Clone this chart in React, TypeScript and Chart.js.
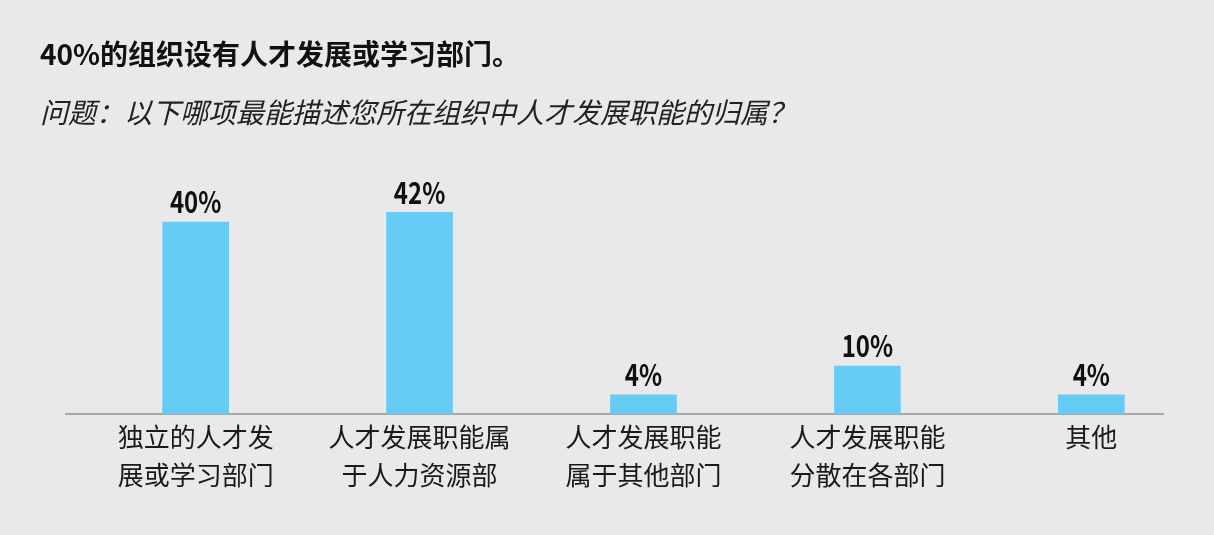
import { useEffect, useRef } from 'react'
import { Chart, registerables } from 'chart.js'

Chart.register(...registerables)

// 图表数据
const categories: string[][] = [
  ['独立的人才发', '展或学习部门'],
  ['人才发展职能属', '于人力资源部'],
  ['人才发展职能', '属于其他部门'],
  ['人才发展职能', '分散在各部门'],
  ['其他']
]
const values: number[] = [40, 42, 4, 10, 4]
const titleText = '40%的组织设有人才发展或学习部门。'
const subtitleText = '问题：以下哪项最能描述您所在组织中人才发展职能的归属？'

const BG = '#e9e9eb'
const BAR = '#66cbf5'
const CJK = '"Noto Sans CJK SC", "Noto Sans", sans-serif'

// 柱顶数值标签
const valueLabels = {
  id: 'valueLabels',
  afterDatasetsDraw(chart: any) {
    const { ctx } = chart
    const meta = chart.getDatasetMeta(0)
    ctx.save()
    ctx.fillStyle = '#111'
    ctx.font = `bold 30px ${CJK}`
    ctx.textAlign = 'center'
    ctx.textBaseline = 'bottom'
    meta.data.forEach((bar: any, i: number) => {
      ctx.save()
      ctx.translate(bar.x, bar.y - 5)
      ctx.scale(0.8, 1)
      ctx.fillText(`${values[i]}%`, 0, 0)
      ctx.restore()
    })
    ctx.restore()
  }
}

export default function App() {
  const canvasRef = useRef<HTMLCanvasElement | null>(null)

  useEffect(() => {
    const ctx = canvasRef.current?.getContext('2d')
    if (!ctx) return

    const chart = new Chart(ctx, {
      type: 'bar',
      data: {
        datasets: [
          {
            data: values.map((v, i) => ({ x: i, y: v })),
            backgroundColor: BAR,
            barThickness: 66
          }
        ]
      },
      options: {
        responsive: true,
        maintainAspectRatio: false,
        animation: false,
        layout: { padding: { left: 40, right: 51, top: 0, bottom: 37 } },
        plugins: {
          legend: { display: false },
          tooltip: { enabled: false },
          title: {
            display: true,
            text: titleText,
            align: 'start',
            color: '#111',
            font: { family: CJK, size: 28, weight: 'bold', lineHeight: 1.2 },
            padding: { top: 38, bottom: 0 }
          },
          subtitle: {
            display: true,
            text: subtitleText,
            align: 'start',
            color: '#222',
            font: { family: CJK, size: 28, style: 'italic', lineHeight: 1.2 },
            padding: { top: 23.6, bottom: 45.2 }
          }
        },
        scales: {
          x: {
            type: 'linear',
            offset: false,
            min: -0.579,
            max: 4.32,
            afterBuildTicks: (axis: any) => {
              axis.ticks = categories.map((_, i) => ({ value: i }))
            },
            ticks: {
              autoSkip: false,
              maxRotation: 0,
              padding: 4,
              color: '#1a1a1a',
              font: { family: CJK, size: 26, lineHeight: 38 / 26 },
              callback: (v: any) => categories[v] ?? ''
            },
            grid: { display: false, drawTicks: false },
            border: { display: true, color: '#a8a8aa', width: 2 }
          },
          y: {
            min: 0,
            max: 50,
            ticks: { display: false },
            grid: { display: false, drawTicks: false },
            border: { display: false },
            afterFit: (scale: any) => {
              scale.width = 26
            }
          }
        }
      },
      plugins: [valueLabels]
    })

    return () => chart.destroy()
  }, [])

  return (
    <div style={{ position: 'absolute', left: 0, top: 0, width: 1214, height: 535, background: BG }}>
      <canvas ref={canvasRef} />
    </div>
  )
}
